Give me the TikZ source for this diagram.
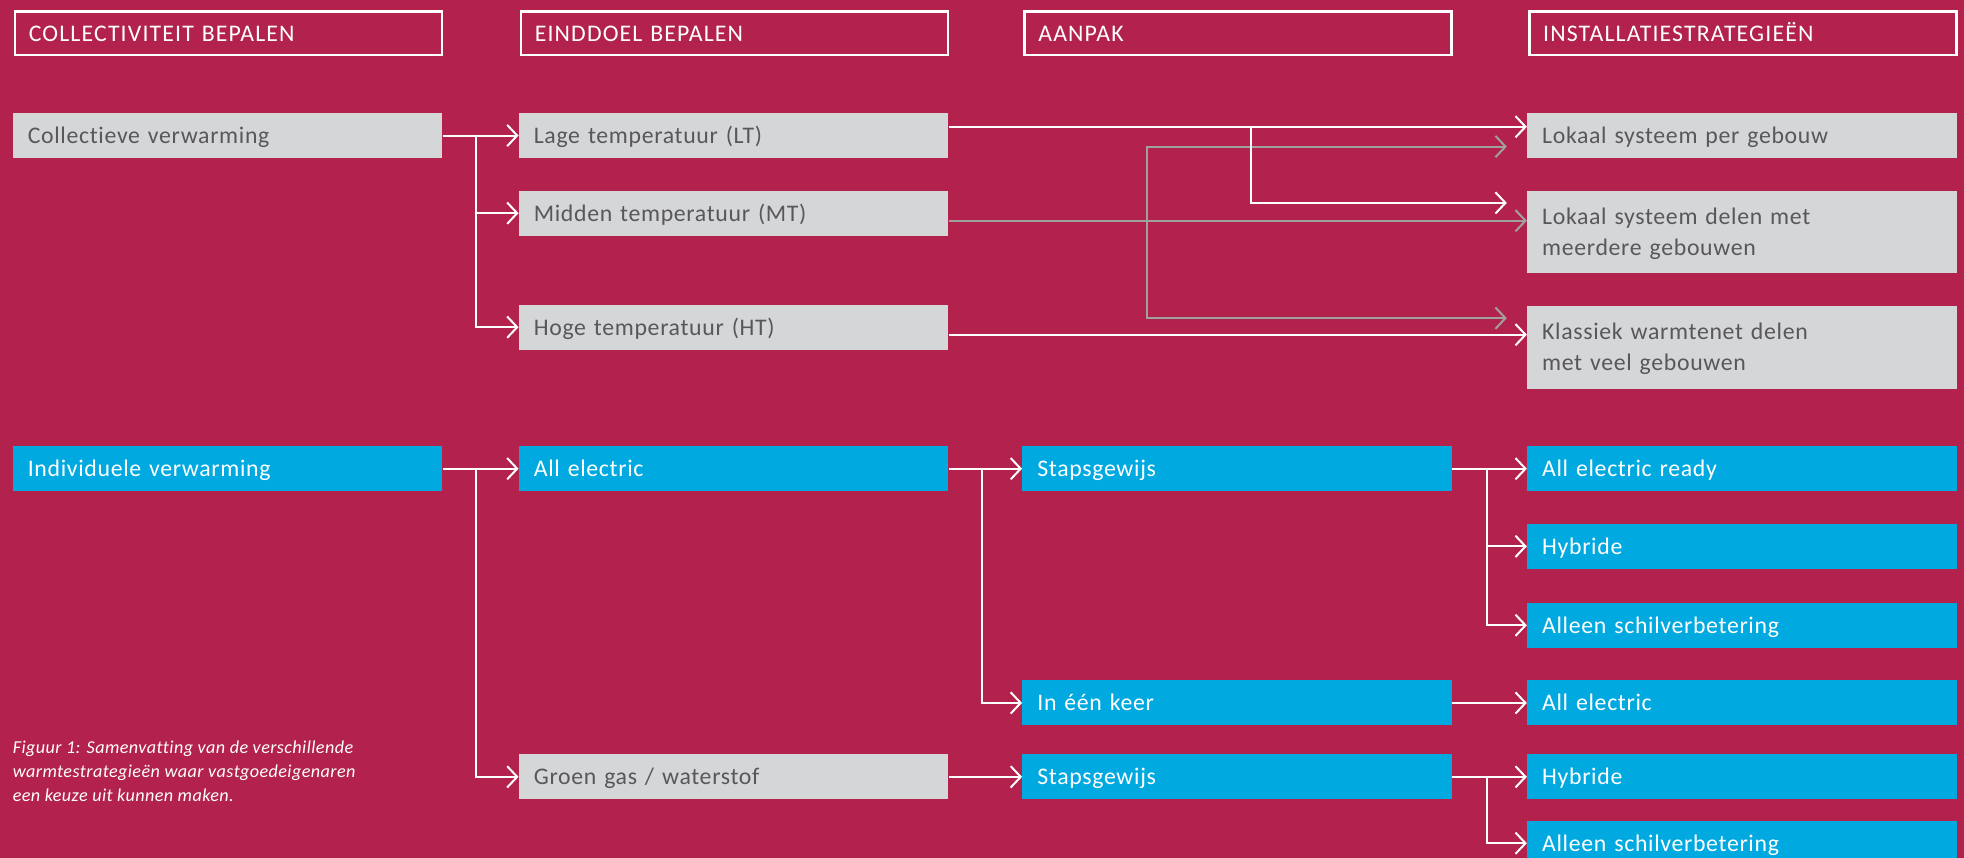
\documentclass[tikz,border=0pt]{standalone}
\usepackage{fontspec}
\setmainfont{Carlito}
\newfontfamily\bodyfont[LetterSpace=2.8,Ligatures=NoCommon]{Carlito}
\newfontfamily\hdrfont[LetterSpace=4.8,Ligatures=NoCommon]{Carlito}
\newfontfamily\capfont[LetterSpace=2.3,Ligatures=NoCommon]{Carlito}
\usetikzlibrary{arrows.meta}
\definecolor{bg}{HTML}{B2224C}
\definecolor{boxgray}{HTML}{D5D6D8}
\definecolor{txtgray}{HTML}{58585A}
\definecolor{boxblue}{HTML}{00A9E0}
\definecolor{linegray}{HTML}{A0A0A0}
\newcommand{\boxstrut}{\rule[-6.1pt]{0pt}{25pt}}
\begin{document}
\begin{tikzpicture}[x=1pt,y=-1pt,
  hdr/.style={draw=white, line width=2pt, anchor=north west, minimum height=35pt,
    inner xsep=11pt, inner ysep=0pt, text width=319pt, align=left, text=white,
    font=\hdrfont\fontsize{19}{25}\selectfont,
    execute at begin node={\boxstrut}},
  gbox/.style={fill=boxgray, text=txtgray, anchor=north west, minimum height=36pt,
    inner xsep=12pt, inner ysep=0pt, text width=319pt, align=left,
    font=\bodyfont\fontsize{19}{25}\selectfont,
    execute at begin node={\boxstrut}, execute at end node={\boxstrut}},
  bbox/.style={gbox, fill=boxblue, text=white},
  arr/.style={draw=white, line width=1.6pt, -{Straight Barb[length=8pt,width=17pt]}},
  garr/.style={draw=linegray, line width=1.6pt, -{Straight Barb[length=8pt,width=17pt]}},
  garr2/.style={draw=linegray, line width=1.6pt,
    {Straight Barb[length=8pt,width=17pt]}-{Straight Barb[length=8pt,width=17pt]}},
]
\useasboundingbox (0,0) rectangle (1568,685);
\clip (0,0) rectangle (1568,685);
\fill[bg] (0,0) rectangle (1568,685);

% headers
\node[hdr] (h1) at (11,8) {COLLECTIVITEIT BEPALEN};
\node[hdr] (h2) at (415,8) {EINDDOEL BEPALEN};
\node[hdr] (h3) at (817,8) {AANPAK};
\node[hdr] (h4) at (1220,8) {INSTALLATIESTRATEGIEËN};

% collective part
\node[gbox] (coll) at (10,90) {Collectieve verwarming};
\node[gbox] (lt) at (414,90) {Lage temperatuur (LT)};
\node[gbox] (mt) at (414,152) {Midden temperatuur (MT)};
\node[gbox] (ht) at (414,243) {Hoge temperatuur (HT)};
\node[gbox] (lok1) at (1219,90) {Lokaal systeem per gebouw};
\node[gbox, minimum height=66pt] (lok2) at (1219,152) {Lokaal systeem delen met\\meerdere gebouwen};
\node[gbox, minimum height=66pt] (klas) at (1219,244) {Klassiek warmtenet delen\\met veel gebouwen};

% individual part
\node[bbox] (ind) at (10,356) {Individuele verwarming};
\node[bbox] (ae) at (414,356) {All electric};
\node[bbox] (st1) at (816,356) {Stapsgewijs};
\node[bbox] (aer) at (1219,356) {All electric ready};
\node[bbox] (hy1) at (1219,418) {Hybride};
\node[bbox] (al1) at (1219,481) {Alleen schilverbetering};
\node[bbox] (one) at (816,543) {In één keer};
\node[bbox] (ae2) at (1219,543) {All electric};
\node[gbox] (gg) at (414,602) {Groen gas / waterstof};
\node[bbox] (st2) at (816,602) {Stapsgewijs};
\node[bbox] (hy2) at (1219,602) {Hybride};
\node[bbox] (al2) at (1219,655) {Alleen schilverbetering};

% caption
\node[anchor=north west, text=white, inner sep=0pt, align=left,
  font=\capfont\itshape\fontsize{14.5}{19.4}\selectfont] (cap) at (10,591)
  {Figuur 1: Samenvatting van de verschillende\\warmtestrategieën waar vastgoedeigenaren\\een keuze uit kunnen maken.};

% top connectors: gray first
\coordinate (mto) at ([yshift=-6pt]mt.east);
\draw[garr] (mto) -- (mto -| lok2.west);
\coordinate (ge1) at (1203,117);
\coordinate (gv2) at (916,254);
\coordinate (ge2) at (1203,254);
\draw[garr2] (ge1) -| (gv2) -- (ge2);

% top connectors: white
\draw[arr] (coll.east) -- (lt.west);
\coordinate (b1) at (380,108);
\draw[arr] (b1) |- (mt.west);
\draw[arr] (b1) |- (ht.west);
\coordinate (lto) at ([yshift=7pt]lt.east);
\draw[arr] (lto) -- (lto -| lok1.west);
\coordinate (b2) at (999,101);
\coordinate (e2) at (1203,162);
\draw[arr] (b2) |- (e2);
\coordinate (hto) at ([yshift=-6pt]ht.east);
\draw[arr] (hto) -- (hto -| klas.west);

% bottom connectors
\draw[arr] (ind.east) -- (ae.west);
\coordinate (b3) at (380,374);
\draw[arr] (b3) |- (gg.west);
\draw[arr] (ae.east) -- (st1.west);
\coordinate (b4) at (784,374);
\draw[arr] (b4) |- (one.west);
\draw[arr] (st1.east) -- (aer.west);
\coordinate (b5) at (1187,374);
\draw[arr] (b5) |- (hy1.west);
\draw[arr] (b5) |- (al1.west);
\draw[arr] (one.east) -- (ae2.west);
\draw[arr] (gg.east) -- (st2.west);
\draw[arr] (st2.east) -- (hy2.west);
\coordinate (b6) at (1187,620);
\draw[arr] (b6) |- (al2.west);
\end{tikzpicture}
\end{document}
